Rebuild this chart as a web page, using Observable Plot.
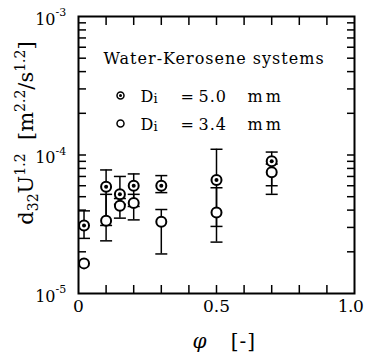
<!DOCTYPE html>
<html><head><meta charset="utf-8">
<script src="https://cdn.jsdelivr.net/npm/d3@7"></script>
<script src="https://cdn.jsdelivr.net/npm/@observablehq/plot@0.6"></script>
<style>
html,body{margin:0;padding:0;background:#fff;}
#chart svg, #chart svg text, #chart svg tspan { font-family: "DejaVu Serif", serif; }
</style>
</head><body><div id="chart"></div>
<script>
// Di = 5.0 mm (dotted circles)
const phi50 = [0.02, 0.1, 0.15, 0.2, 0.3, 0.5, 0.7];
const d50   = [3.1e-5, 5.9e-5, 5.2e-5, 6.0e-5, 6.0e-5, 6.6e-5, 9.0e-5];
const lo50  = [2.5e-5, 3.1e-5, 4.4e-5, 4.25e-5, 5.35e-5, 3.05e-5, 6.0e-5];
const hi50  = [3.95e-5, 7.8e-5, 7.0e-5, 7.3e-5, 7.1e-5, 1.1e-4, 1.05e-4];
// Di = 3.4 mm (open circles)
const phi34 = [0.02, 0.1, 0.15, 0.2, 0.3, 0.5, 0.7];
const d34   = [1.65e-5, 3.35e-5, 4.3e-5, 4.5e-5, 3.3e-5, 3.85e-5, 7.5e-5];
const lo34  = [null, 2.4e-5, 3.5e-5, 3.4e-5, 1.93e-5, 2.35e-5, 5.2e-5];
const hi34  = [null, 5.2e-5, 4.85e-5, 5.2e-5, 4.04e-5, 5.8e-5, 8.6e-5];
// axes
const xLabelTicks = [0, 0.5, 1.0];
const xLabelText = ["0", "0.5", "1.0"];
const xMinorTicks = [0.1, 0.2, 0.3, 0.4, 0.5, 0.6, 0.7, 0.8, 0.9];
const yMajorTicks = [1e-3, 1e-4, 1e-5];
const yExpLabels = ["-3", "-4", "-5"];
const yMinorTicks = [2e-5, 3e-5, 4e-5, 5e-5, 6e-5, 7e-5, 8e-5, 9e-5, 1e-4,
                     2e-4, 3e-4, 4e-4, 5e-4, 6e-4, 7e-4, 8e-4, 9e-4];
const legendTitle = "Water-Kerosene systems";
const legendValues = ["5.0", "3.4"];

const rows50 = phi50.map((p, i) => ({phi: p, d: d50[i], lo: lo50[i], hi: hi50[i]}));
const rows34 = phi34.map((p, i) => ({phi: p, d: d34[i], lo: lo34[i], hi: hi34[i]}));
const bars = rows50.concat(rows34).filter(r => r.lo != null);

const cap = {draw(ctx) { ctx.moveTo(-6, 0); ctx.lineTo(6, 0); }};
const SERIF = "DejaVu Serif";

const lt = (txt, dx, dy, o = {}) => Plot.text([txt], {text: d => d, frameAnchor: "top-left", dx, dy,
  textAnchor: "start", lineAnchor: "bottom", fontSize: 16, fill: "black", fontFamily: SERIF, ...o});

const chart = Plot.plot({
  width: 366, height: 356,
  marginLeft: 78, marginRight: 12, marginTop: 16, marginBottom: 63,
  x: {domain: [0, 1], label: null},
  y: {type: "log", domain: [1e-5, 1e-3], label: null},
  style: {fontFamily: SERIF, background: "white", color: "black"},
  marks: [
    Plot.axisX(xMinorTicks, {anchor: "bottom", tickSize: -8, tickFormat: () => "", strokeWidth: 1.5, label: null}),
    Plot.axisX(xMinorTicks, {anchor: "top", tickSize: -8, tickFormat: () => "", strokeWidth: 1.5, label: null}),
    Plot.axisY(yMinorTicks, {anchor: "left", tickSize: -8, tickFormat: () => "", strokeWidth: 1.5, label: null}),
    Plot.axisY(yMinorTicks, {anchor: "right", tickSize: -8, tickFormat: () => "", strokeWidth: 1.5, label: null}),
    Plot.axisX(xLabelTicks, {anchor: "bottom", tickSize: 0, tickPadding: 6, fontSize: 17, fontFamily: SERIF,
      tickFormat: (d, i) => xLabelText[i], label: null}),
    Plot.text(yMajorTicks, {y: d => d, frameAnchor: "left", text: () => "10", textAnchor: "end",
      dx: -23, dy: 3, fontSize: 16, fontFamily: SERIF}),
    Plot.text(yMajorTicks, {y: d => d, frameAnchor: "left", text: (d, i) => yExpLabels[i], textAnchor: "start",
      dx: -23, dy: -4, fontSize: 11, fontFamily: SERIF}),
    Plot.frame({strokeWidth: 2}),
    Plot.ruleX(bars, {x: "phi", y1: "lo", y2: "hi", strokeWidth: 1.5}),
    Plot.dot(bars, {x: "phi", y: "lo", symbol: cap, fill: "none", stroke: "black", strokeWidth: 1.5}),
    Plot.dot(bars, {x: "phi", y: "hi", symbol: cap, fill: "none", stroke: "black", strokeWidth: 1.5}),
    Plot.dot(rows34, {x: "phi", y: "d", r: 5, fill: "white", stroke: "black", strokeWidth: 2}),
    Plot.dot(rows50, {x: "phi", y: "d", r: 5, fill: "white", stroke: "black", strokeWidth: 2}),
    Plot.dot(rows50, {x: "phi", y: "d", r: 2, fill: "black"}),
    // legend
    lt(legendTitle, 25, 47),
    Plot.dot([0], {frameAnchor: "top-left", dx: 42, dy: 79, r: 3.5, fill: "white", stroke: "black", strokeWidth: 1.5}),
    Plot.dot([0], {frameAnchor: "top-left", dx: 42, dy: 79, r: 1.5, fill: "black"}),
    Plot.dot([0], {frameAnchor: "top-left", dx: 42, dy: 107, r: 3.5, fill: "white", stroke: "black", strokeWidth: 1.5}),
    lt("D", 62, 85), lt("i", 75, 86, {fontSize: 13}), lt("=", 102, 85), lt(legendValues[0], 120, 85), lt("mm", 169, 85),
    lt("D", 62, 113), lt("i", 75, 114, {fontSize: 13}), lt("=", 102, 113), lt(legendValues[1], 120, 113), lt("mm", 169, 113),
    // x title
    Plot.text(["φ"], {text: d => d, frameAnchor: "bottom", dx: -17, dy: 54, lineAnchor: "bottom", fontSize: 20, fontStyle: "italic", fontFamily: SERIF}),
    Plot.text(["[-]"], {text: d => d, frameAnchor: "bottom", dx: 27, dy: 54, lineAnchor: "bottom", fontSize: 20, fontFamily: SERIF})
  ]
});
document.getElementById("chart").appendChild(chart);

const svg = d3.select(chart);
svg.selectAll("text").each(function() {
  const t = this.textContent;
  if (t === legendTitle) this.setAttribute("letter-spacing", "1");
  if (t === "5.0" || t === "3.4") this.setAttribute("letter-spacing", "1");
  if (t === "mm") this.setAttribute("letter-spacing", "3");
  if (t === "[-]") this.setAttribute("letter-spacing", "1");
  if (t === "1.0") { this.setAttribute("dx", "-4"); this.setAttribute("letter-spacing", "-0.5"); }
});
// y-axis title with sub/superscripts
const yt = svg.append("text")
  .attr("transform", "translate(33,133) rotate(-90)")
  .attr("text-anchor", "middle")
  .attr("font-size", 21)
  .attr("fill", "black");
yt.append("tspan").text("d");
yt.append("tspan").attr("font-size", 14).attr("dy", 5).text("32");
yt.append("tspan").attr("dy", -5).text("U");
yt.append("tspan").attr("font-size", 14).attr("dy", -8).text("1.2");
yt.append("tspan").attr("dy", 8).text("\u00a0\u00a0[m");
yt.append("tspan").attr("font-size", 14).attr("dy", -8).text("2.2");
yt.append("tspan").attr("dy", 8).text("/s");
yt.append("tspan").attr("font-size", 14).attr("dy", -8).text("1.2");
yt.append("tspan").attr("dy", 8).text("]");
</script>
</body></html>
